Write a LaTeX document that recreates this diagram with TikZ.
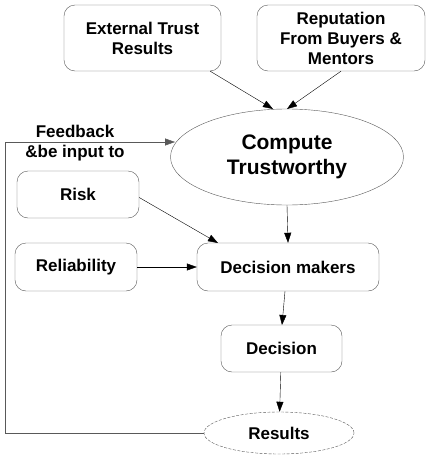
\documentclass[tikz,border=0pt]{standalone}
\usepackage{fontspec}
\setmainfont{Liberation Sans}
\usetikzlibrary{arrows.meta,positioning,shapes.geometric}

\begin{document}
\begin{tikzpicture}[x=1pt,y=-1pt,>={Triangle[length=10pt,width=7pt]},
  box/.style={draw=black!65,rounded corners=11pt,align=center,
    font=\bfseries\fontsize{17}{20}\selectfont,inner sep=0pt},
  oval/.style={draw=black!65,ellipse,align=center,inner sep=0pt}]
  \useasboundingbox (0,0) rectangle (432,458);
  \node[box,minimum width=157pt,minimum height=66pt] (ext) at (142.5,38) {External Trust\\Results};
  \node[box,minimum width=168pt,minimum height=66pt] (rep) at (341,38) {Reputation\\From Buyers \&\\Mentors};
  \node[oval,minimum width=233pt,minimum height=96pt,
    font=\bfseries\fontsize{21}{25}\selectfont] (comp) at (287,157) {Compute\\Trustworthy};
  \node[box,minimum width=122pt,minimum height=47pt] (risk) at (78,194.5) {Risk};
  \node[box,minimum width=122pt,minimum height=48pt] (rel) at (76,267) {Reliability};
  \node[box,minimum width=182pt,minimum height=48pt] (dm) at (288,267) {Decision makers};
  \node[box,minimum width=121pt,minimum height=47pt] (dec) at (281.5,348.5) {Decision};
  \node[oval,dash pattern=on 3pt off 1.5pt,minimum width=150pt,minimum height=42pt,
    font=\bfseries\fontsize{17}{20}\selectfont] (res) at (279,433) {Results};
  \node[align=center,font=\bfseries\fontsize{17}{20}\selectfont] (fbl) at (75,143) {Feedback\\\&be input to};
  \coordinate (fbcorner) at (5,142);
  \coordinate (fbend) at (175,142);
  \draw[->] (ext.south east)++(-11pt,0) -- (273,109);
  \draw[->] (rep.south)++(0,0) -- (287,109);
  \draw[->] (comp.south) -- (dm.north);
  \draw[->] (risk.east)++(0,3) -- (218,243);
  \draw[->] (rel) -- (dm);
  \draw[->] (dm.south)++(-3,0) -- (282,325);
  \draw[->] (dec) -- (res);
  \draw[black!65,->] (res.west) -| (fbcorner) -- (fbend);
\end{tikzpicture}
\end{document}
